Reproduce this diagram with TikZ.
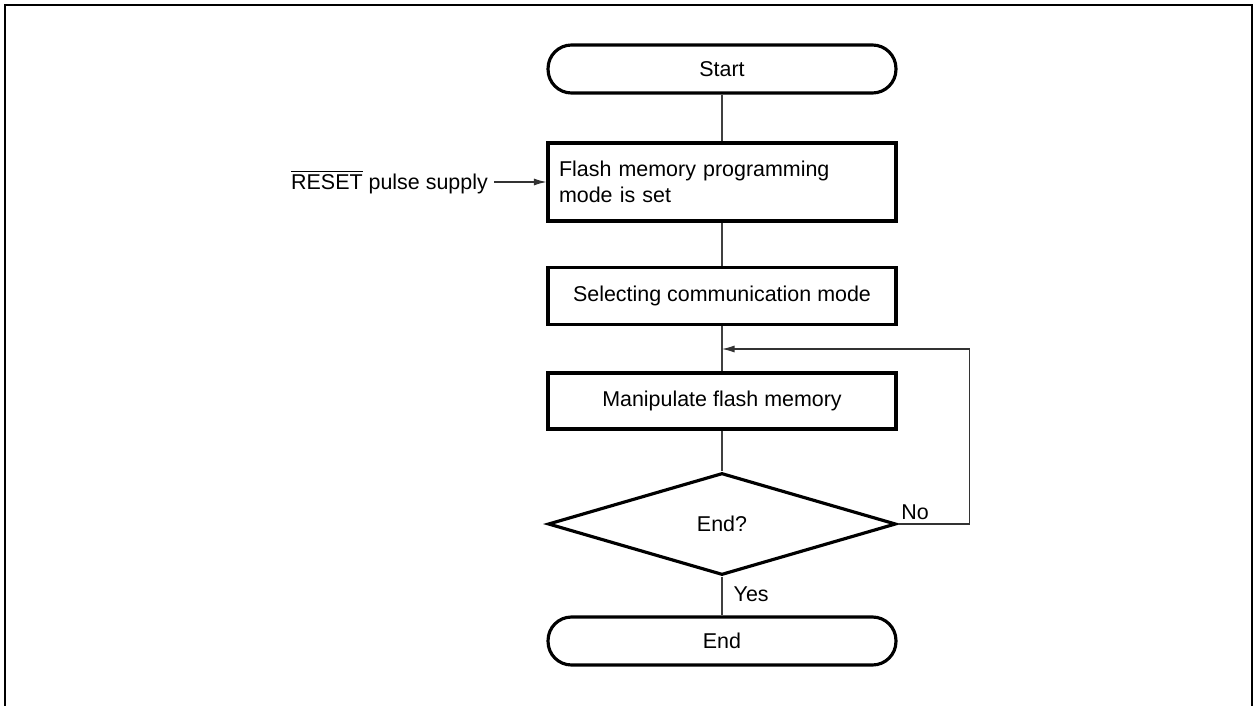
\documentclass[tikz,border=0pt]{standalone}
\usepackage{fontspec}
\setmainfont{Liberation Sans}
\usetikzlibrary{shapes.geometric, arrows.meta, positioning}

\begin{document}
\begin{tikzpicture}[
    x=0.02cm, y=-0.02cm,
    font=\fontsize{12.2}{14.7}\selectfont,
    terminal/.style={rectangle, rounded corners=0.47cm, draw, line width=1.8pt, minimum width=6.96cm, minimum height=0.96cm, align=center},
    procbox/.style={rectangle, draw, line width=1.8pt, minimum width=6.96cm, align=center},
    decision/.style={diamond, draw, line width=1.8pt, minimum width=6.96cm, minimum height=2.04cm, inner sep=0pt},
    link/.style={draw=black!75, line width=0.6pt},
    flow/.style={-{Latex[length=2.5mm, width=1.4mm]}, draw=black!80, line width=0.6pt}
]
\useasboundingbox (0,0) rectangle (1255,706);

% outer frame
\draw[line width=1.6pt] (5,712) -- (5,5) -- (1252,5) -- (1252,712);

% Flow chart nodes
\node[terminal] (start) at (722,69) {Start};
\node[procbox, minimum height=1.56cm, align=left, text width=6.52cm, inner xsep=0.22cm] (prog) at (722,182) {Flash memory programming\\mode is set};
\node[procbox, minimum height=1.14cm] (comm) at (722,296) {Selecting communication mode};
\node[procbox, minimum height=1.12cm] (manip) at (722,401) {Manipulate flash memory};
\node[decision] (chk) at (722,524) {End?};
\node[terminal] (stop) at (722,641) {End};

% reset input
\node[anchor=east] (rst) at (494,182) {$\overline{\mbox{RESET}}$ pulse supply};
\draw[flow] (rst.east) -- (prog.west);

% Connectors
\coordinate (join) at (722,349);
\draw[link] (start.south) -- (prog.north);
\draw[link] (prog.south) -- (comm.north);
\draw[link] (comm.south) -- (manip.north);
\draw[link] (manip.south) -- (chk.north);
\draw[link] (chk.south) -- node[right=3pt, pos=0.45] {Yes} (stop.north);
\draw[flow] (chk.east) -- ++(72,0) |- (join);
\node[anchor=south west, inner sep=2pt] (no) at (chk.east) {No};

\end{tikzpicture}
\end{document}
